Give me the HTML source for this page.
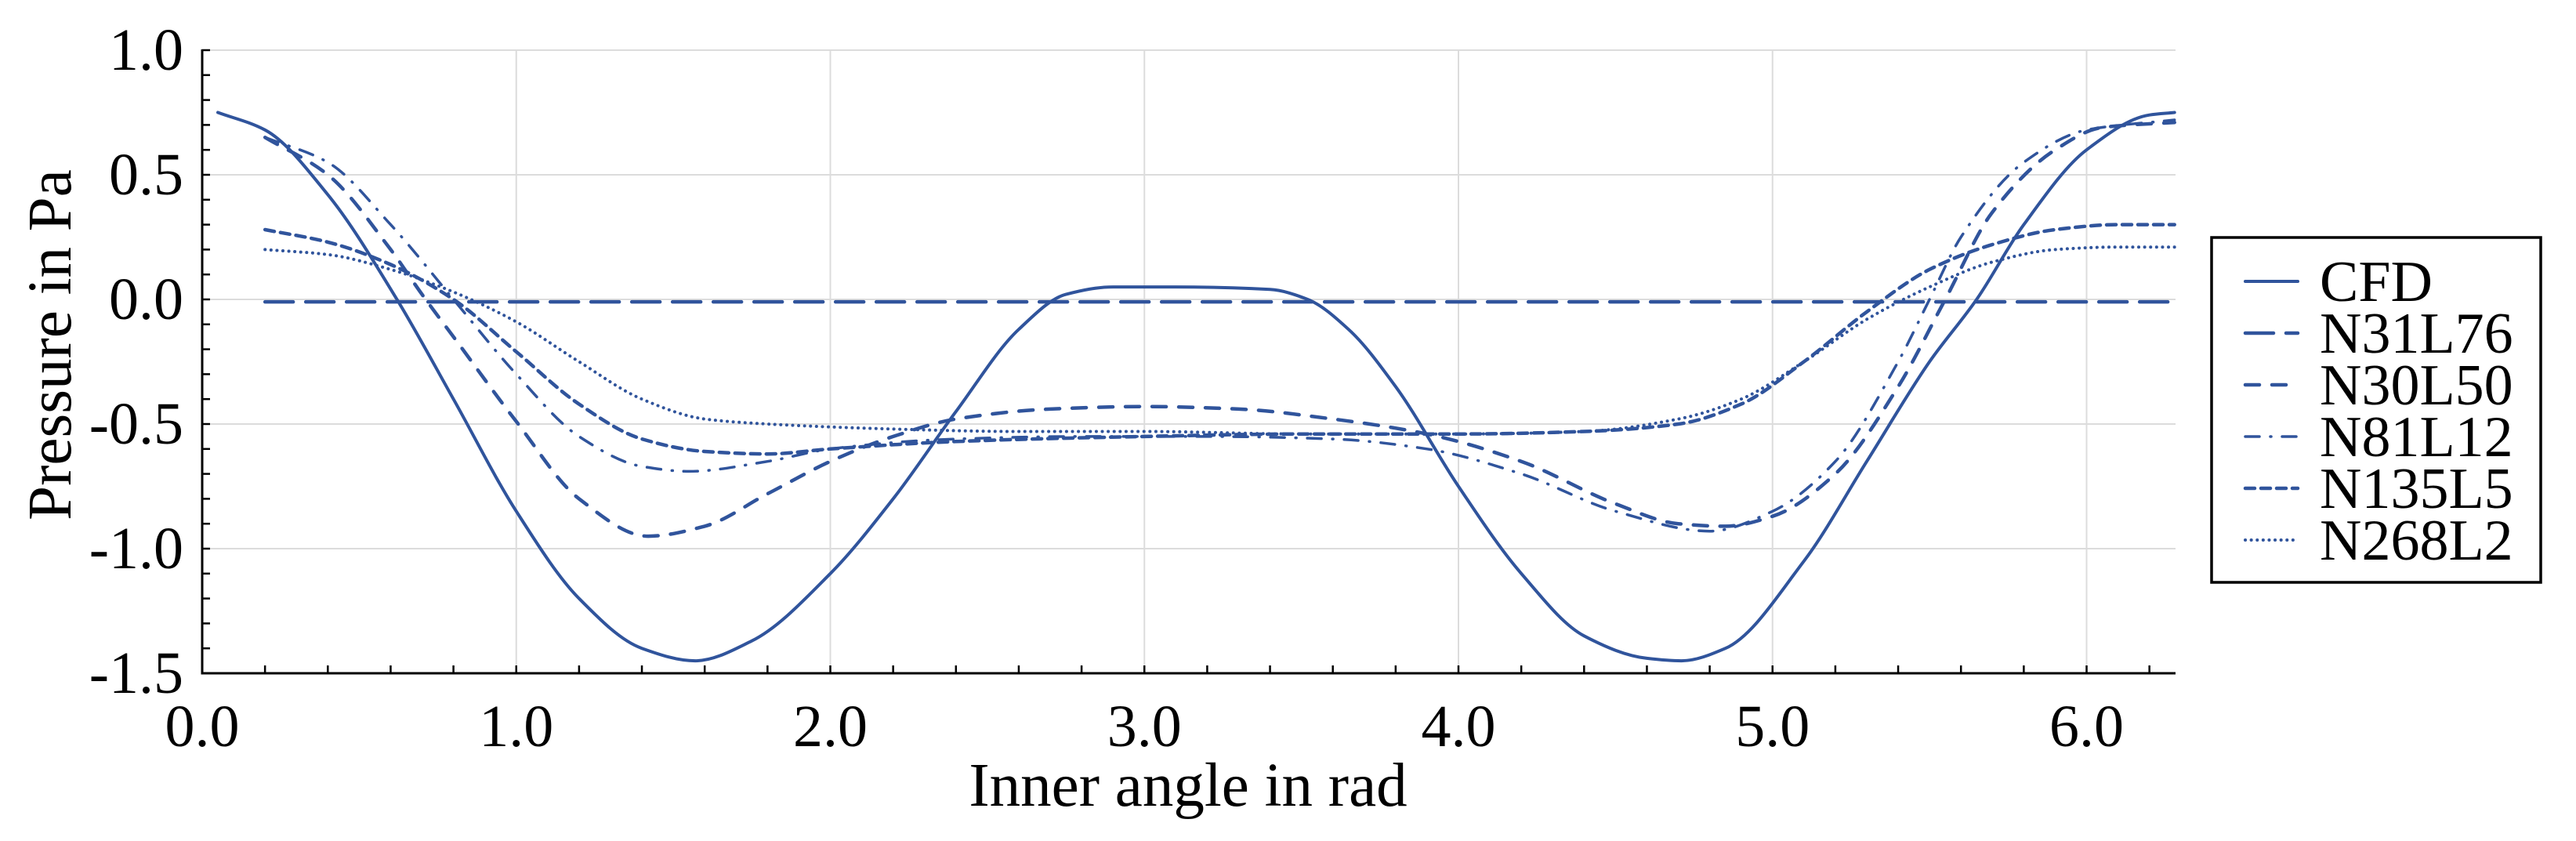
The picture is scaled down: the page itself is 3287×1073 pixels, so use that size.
<!DOCTYPE html>
<html><head><meta charset="utf-8"><style>
html,body{margin:0;padding:0;background:#fff;}
svg{display:block;font-family:"Liberation Serif",serif;}
</style></head><body>
<svg id="chart" width="3287" height="1073" viewBox="0 0 3287 1073" xmlns="http://www.w3.org/2000/svg">
<g id="grid"></g>
<g id="series"></g>
<g id="axes"></g>
<text x="1516" y="1028" font-size="79" text-anchor="middle">Inner angle in rad</text>
<text transform="translate(90,440) rotate(-90)" font-size="79" text-anchor="middle">Pressure in Pa</text>
<g id="legend">
<rect x="2822" y="303" width="420" height="440" fill="#fff" stroke="#000" stroke-width="3.5"/>
</g>
</svg>
<script>
const seriesNames = ["CFD","N31L76","N30L50","N81L12","N135L5","N268L2"];
const xTicks = [0,1,2,3,4,5,6];
const xTickLabels = ["0.0","1.0","2.0","3.0","4.0","5.0","6.0"];
const yTicks = [1,0.5,0,-0.5,-1,-1.5];
const yTickLabels = ["1.0","0.5","0.0","-0.5","-1.0","-1.5"];
const cfdX = [0.05,0.2,0.4,0.62,0.8,1.0,1.2,1.4,1.57,1.75,2.0,2.2,2.4,2.6,2.75,2.9,3.1,3.4,3.52,3.65,3.8,4.0,4.2,4.4,4.6,4.71,4.85,5.1,5.3,5.5,5.65,5.8,6.0,6.2,6.28];
const cfdY = [0.75,0.68,0.42,0.0,-0.4,-0.85,-1.2,-1.4,-1.45,-1.37,-1.1,-0.8,-0.45,-0.12,0.02,0.05,0.05,0.04,0.0,-0.12,-0.35,-0.75,-1.1,-1.35,-1.44,-1.45,-1.4,-1.05,-0.65,-0.25,0.0,0.3,0.6,0.74,0.75];
const n31X = [0.2,6.28];
const n31Y = [-0.01,-0.01];
const n30X = [0.2,0.4,0.6,0.7,0.8,1.0,1.2,1.42,1.6,1.8,2.0,2.2,2.4,2.7,3.0,3.3,3.6,3.9,4.2,4.5,4.7,4.85,5.0,5.2,5.4,5.55,5.7,5.9,6.05,6.28];
const n30Y = [0.65,0.5,0.2,0.02,-0.15,-0.49,-0.8,-0.95,-0.91,-0.78,-0.65,-0.55,-0.48,-0.44,-0.43,-0.44,-0.48,-0.54,-0.65,-0.82,-0.9,-0.91,-0.87,-0.7,-0.35,0.0,0.35,0.6,0.69,0.71];
const n81X = [0.2,0.4,0.6,0.8,1.0,1.2,1.4,1.55,1.8,2.0,2.4,2.8,3.2,3.6,3.9,4.2,4.5,4.8,5.0,5.2,5.4,5.5,5.6,5.8,6.0,6.28];
const n81Y = [0.65,0.55,0.3,0.0,-0.3,-0.55,-0.67,-0.69,-0.65,-0.6,-0.56,-0.55,-0.55,-0.56,-0.6,-0.7,-0.85,-0.93,-0.85,-0.65,-0.25,0.0,0.25,0.55,0.68,0.72];
const n135X = [0.2,0.4,0.6,0.8,1.0,1.2,1.4,1.6,1.8,2.0,2.4,3.0,3.5,4.0,4.4,4.7,4.9,5.1,5.3,5.5,5.7,5.9,6.1,6.28];
const n135Y = [0.28,0.23,0.14,0.0,-0.21,-0.42,-0.56,-0.61,-0.62,-0.6,-0.57,-0.55,-0.54,-0.54,-0.53,-0.5,-0.42,-0.25,-0.05,0.12,0.22,0.28,0.3,0.3];
const n268X = [0.2,0.4,0.6,0.8,1.0,1.2,1.4,1.6,1.8,2.2,2.6,3.0,3.5,4.0,4.4,4.7,4.9,5.1,5.3,5.5,5.7,5.9,6.1,6.28];
const n268Y = [0.2,0.18,0.12,0.03,-0.09,-0.25,-0.4,-0.48,-0.5,-0.52,-0.53,-0.53,-0.54,-0.54,-0.53,-0.48,-0.4,-0.25,-0.08,0.05,0.15,0.2,0.21,0.21];

const NS="http://www.w3.org/2000/svg";
const L=258,R=2776,T=64,B=859,XMAX=2*Math.PI,YMIN=-1.5,YMAX=1.0;
const xs=v=>L+(v/XMAX)*(R-L);
const ys=v=>B-(v-YMIN)/(YMAX-YMIN)*(B-T);
const COL="#30549c";
function mk(tag,attrs,parent){const e=document.createElementNS(NS,tag);for(const k in attrs)e.setAttribute(k,attrs[k]);parent.appendChild(e);return e;}
const grid=document.getElementById('grid'),axes=document.getElementById('axes'),ser=document.getElementById('series'),leg=document.getElementById('legend');
xTicks.forEach((v,i)=>{
  if(v>0){const g=mk('line',{x1:xs(v),x2:xs(v),y1:T,y2:B,stroke:'#dcdcdc','stroke-width':2},grid);
  
  }
  const t=mk('text',{x:xs(v),y:952,'font-size':76,'text-anchor':'middle'},axes);t.textContent=xTickLabels[i];
  
  
});
yTicks.forEach((v,i)=>{
  if(v>YMIN){const g=mk('line',{x1:L,x2:R,y1:ys(v),y2:ys(v),stroke:'#dcdcdc','stroke-width':2},grid);
  
  }
  const t=mk('text',{x:234,y:ys(v)+25,'font-size':76,'text-anchor':'end'},axes);t.textContent=yTickLabels[i];
  
  
});
for(let k=1;k<=31;k++){const v=k*0.2;if(v>XMAX)break;mk('line',{x1:xs(v),x2:xs(v),y1:B,y2:B-10,stroke:'#000','stroke-width':2.5},axes);}
for(let k=0;k<=25;k++){const v=YMIN+k*0.1;mk('line',{x1:L,x2:L+10,y1:ys(v),y2:ys(v),stroke:'#000','stroke-width':2.5},axes);}
const ax=mk('path',{d:`M${L},${T-1}V${B}H${R}`,fill:'none',stroke:'#000','stroke-width':3},axes);



function spline(X,Y){
  const n=X.length;
  if(n<3)return `M${xs(X[0])},${ys(Y[0])}L${xs(X[1])},${ys(Y[1])}`;
  const h=[],dl=[];
  for(let i=0;i<n-1;i++){h.push(X[i+1]-X[i]);dl.push((Y[i+1]-Y[i])/h[i]);}
  const m=new Array(n);
  m[0]=dl[0];m[n-1]=dl[n-2];
  for(let i=1;i<n-1;i++){
    if(dl[i-1]*dl[i]<=0)m[i]=0;
    else{const w1=2*h[i]+h[i-1],w2=h[i]+2*h[i-1];m[i]=(w1+w2)/(w1/dl[i-1]+w2/dl[i]);}
  }
  let d=`M${xs(X[0]).toFixed(1)},${ys(Y[0]).toFixed(1)}`;
  for(let i=0;i<n-1;i++){
    const x1=X[i]+h[i]/3,y1=Y[i]+m[i]*h[i]/3,x2=X[i+1]-h[i]/3,y2=Y[i+1]-m[i+1]*h[i]/3;
    d+=`C${xs(x1).toFixed(1)},${ys(y1).toFixed(1)} ${xs(x2).toFixed(1)},${ys(y2).toFixed(1)} ${xs(X[i+1]).toFixed(1)},${ys(Y[i+1]).toFixed(1)}`;
  }
  return d;
}
const allX=[cfdX,n31X,n30X,n81X,n135X,n268X],allY=[cfdY,n31Y,n30Y,n81Y,n135Y,n268Y];
const dashes=["none","36 16","18 16","18 14 1 14","12 8","0.1 7.5"];
const widths=[4,4.5,4.5,3.5,4.5,4];
allX.forEach((X,i)=>{
  const p=mk('path',{d:spline(X,allY[i]),fill:'none',stroke:COL,'stroke-width':widths[i],'stroke-dasharray':dashes[i],'stroke-linecap':'round'},ser);
  
  
  const cy=359+i*66;
  const s=mk('line',{x1:2865,x2:2932,y1:cy,y2:cy,stroke:COL,'stroke-width':widths[i],'stroke-dasharray':dashes[i],'stroke-linecap':'round'},leg);
  
  
  const t=mk('text',{x:2960,y:cy+25,'font-size':74},leg);t.textContent=seriesNames[i];
  
  
});
</script>
</body></html>
